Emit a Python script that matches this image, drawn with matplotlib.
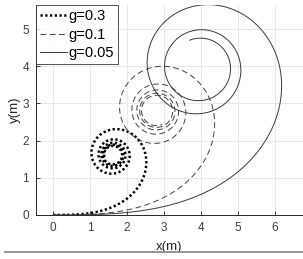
import numpy as np
import matplotlib
matplotlib.use('Agg')
import matplotlib.pyplot as plt
from matplotlib.lines import Line2D

# steering gains shown in the legend
g_values = [0.3, 0.1, 0.05]
labels = ['g=0.3', 'g=0.1', 'g=0.05']
# end of each path, in normalised Cornu parameter
t_end = [4.4, 4.5, 3.2]

x_ticks = [0, 1, 2, 3, 4, 5, 6]
y_ticks = [0, 1, 2, 3, 4, 5]

# line styles
styles = [dict(color='black', linestyle=(0, (0.9, 1.0)), linewidth=1.8),
          dict(color='#404040', linestyle=(0, (6, 3.5)), linewidth=0.7),
          dict(color='#3a3a3a', linestyle='-', linewidth=0.7)]

plt.rcParams['font.family'] = ['Liberation Sans', 'DejaVu Sans']

fig = plt.figure(figsize=(3.03, 2.59), dpi=100)
ax = fig.add_axes([0.1188, 0.1699, 0.8812, 0.8108])

for g, lab, te, st in zip(g_values, labels, t_end, styles):
    # clothoid path: heading grows as g*s^2/2
    s = np.linspace(0, te * np.sqrt(np.pi / g), 40000)
    ds = s[1] - s[0]
    th = g * s**2 / 2
    x = np.concatenate([[0], np.cumsum((np.cos(th[1:]) + np.cos(th[:-1])) / 2 * ds)])
    y = np.concatenate([[0], np.cumsum((np.sin(th[1:]) + np.sin(th[:-1])) / 2 * ds)])
    ax.plot(x, y, label=lab, **st)

ax.set_xticks(x_ticks)
ax.set_yticks(y_ticks)
ax.set_xlim(-0.46, 6.76)
ax.set_ylim(0, 5.65)
ax.grid(True, color='#e8e8e8', linewidth=0.7)
ax.set_axisbelow(True)
for side in ['top', 'right']:
    ax.spines[side].set_visible(False)
for side in ['left', 'bottom']:
    ax.spines[side].set_color('#262626')
    ax.spines[side].set_linewidth(0.7)
ax.tick_params(direction='in', length=3, width=0.6, color='#262626',
               labelsize=8.5, labelcolor='#404040', pad=5)
ax.set_xlabel('x(m)', fontsize=9.5, color='#262626', labelpad=5)
ax.set_ylabel('y(m)', fontsize=9.5, color='#262626', labelpad=1)

handles = [Line2D([], [], **st) for st in styles]
leg = ax.legend(handles, labels, loc='upper left', bbox_to_anchor=(0.0, 1.0),
                fontsize=10.5, frameon=True, fancybox=False, handlelength=1.8,
                handletextpad=0.1, borderpad=0.3, labelspacing=0.3,
                borderaxespad=0.0)
leg.get_frame().set_edgecolor('#262626')
leg.get_frame().set_linewidth(0.7)

fig.add_artist(Line2D([0.017, 1.0], [0.027, 0.027], color='#8c8c8c',
                      linewidth=1.3, transform=fig.transFigure))

fig.savefig('out.png', dpi=100)
